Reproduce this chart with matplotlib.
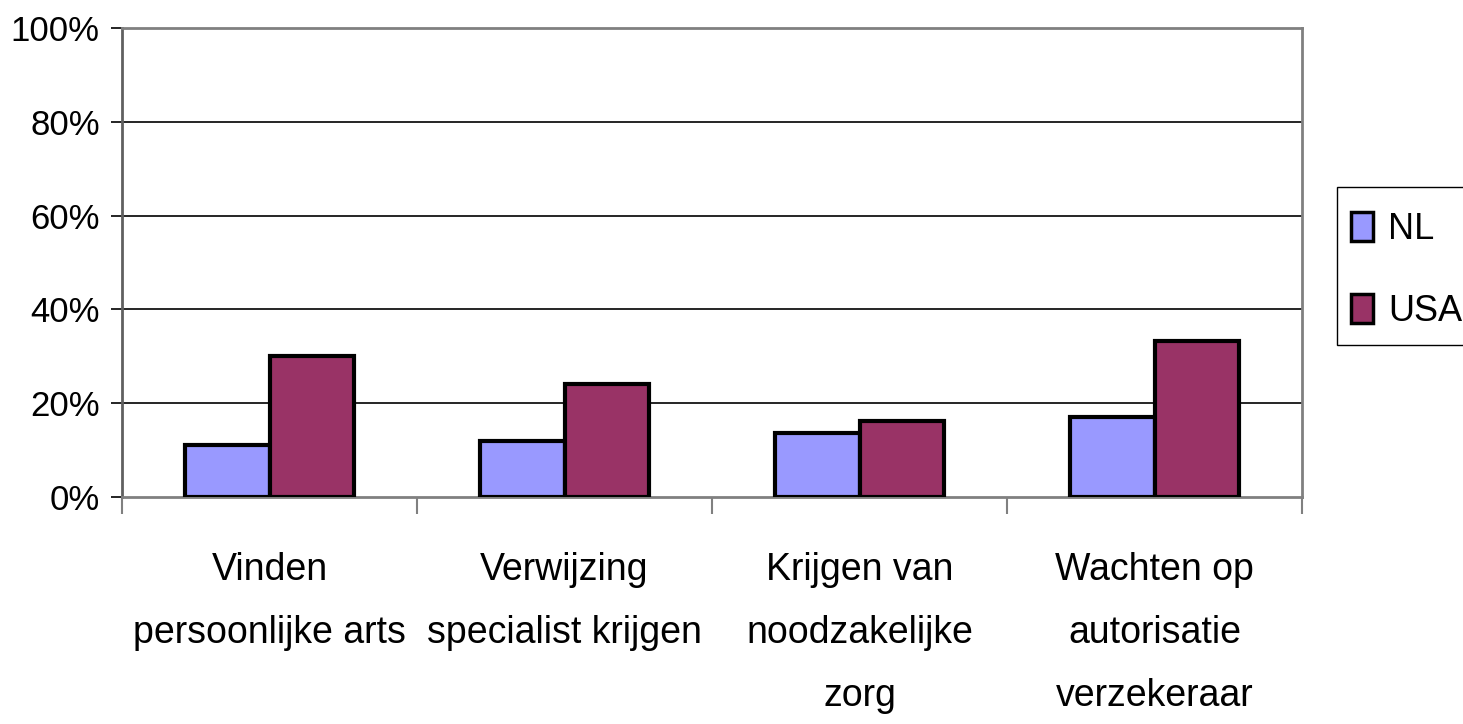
import matplotlib
matplotlib.use("Agg")
import matplotlib.pyplot as plt
from matplotlib.patches import Patch, Rectangle
import numpy as np

categories = ["Vinden\npersoonlijke arts", "Verwijzing\nspecialist krijgen",
              "Krijgen van\nnoodzakelijke\nzorg", "Wachten op\nautorisatie\nverzekeraar"]
nl_values = [11, 12, 13.6, 17]
usa_values = [30, 24, 16.2, 33.2]
series_names = ["NL", "USA"]
y_ticks = [0, 20, 40, 60, 80, 100]
y_tick_labels = ["0%", "20%", "40%", "60%", "80%", "100%"]

plt.rcParams['font.family'] = ['Liberation Sans', 'DejaVu Sans']

W, H = 1463, 724
fig = plt.figure(figsize=(W / 100, H / 100), dpi=100)
ax = fig.add_axes([0.0834, 0.3135, 0.8066, 0.6478])

x = np.arange(len(categories))
w = 0.285
c_nl = "#9999FF"
c_usa = "#993366"
ax.bar(x - w/2, nl_values, w, color=c_nl, edgecolor="black", linewidth=3, zorder=3)
ax.bar(x + w/2, usa_values, w, color=c_usa, edgecolor="black", linewidth=3, zorder=3)

ax.set_xlim(-0.5, len(categories) - 0.5)
ax.set_ylim(0, 100)
ax.set_yticks(y_ticks)
ax.set_yticklabels(y_tick_labels, fontsize=25)
for yv in y_ticks[1:-1]:
    ax.axhline(yv, color="black", linewidth=1.2, zorder=1)

# category boundary ticks
ax.set_xticks(np.arange(-0.5, len(categories), 1.0))
ax.set_xticklabels([])
ax.tick_params(axis='x', direction='out', length=12, width=1.5, color="#808080")
ax.tick_params(axis='y', direction='out', length=8, width=1.2, color="black", pad=8)
for i, lab in enumerate(categories):
    ax.text(i, -11.8, lab, ha='center', va='top', fontsize=27, linespacing=1.95,
            transform=ax.transData)

for side in ["top", "right", "bottom"]:
    ax.spines[side].set_color("#808080")
    ax.spines[side].set_linewidth(2)
ax.spines["left"].set_color("#606060")
ax.spines["left"].set_linewidth(2)

# legend frame
fig.patches.append(Rectangle((1337 / W, 1 - 345 / H), (1475 - 1337) / W, (345 - 187) / H,
                             transform=fig.transFigure, facecolor="white",
                             edgecolor="black", linewidth=1, zorder=1))
handles = [Patch(facecolor=c_nl, edgecolor="black", linewidth=2.5),
           Patch(facecolor=c_usa, edgecolor="black", linewidth=2.5)]
leg = fig.legend(handles, series_names, loc='center left',
                 bbox_to_anchor=(1351 / W, 1 - 270.5 / H),
                 fontsize=26, frameon=False,
                 handlelength=0.62, handleheight=0.85, handletextpad=0.4,
                 labelspacing=1.3, borderpad=0, borderaxespad=0)
leg.set_zorder(2)

fig.savefig("out.png", dpi=100)
